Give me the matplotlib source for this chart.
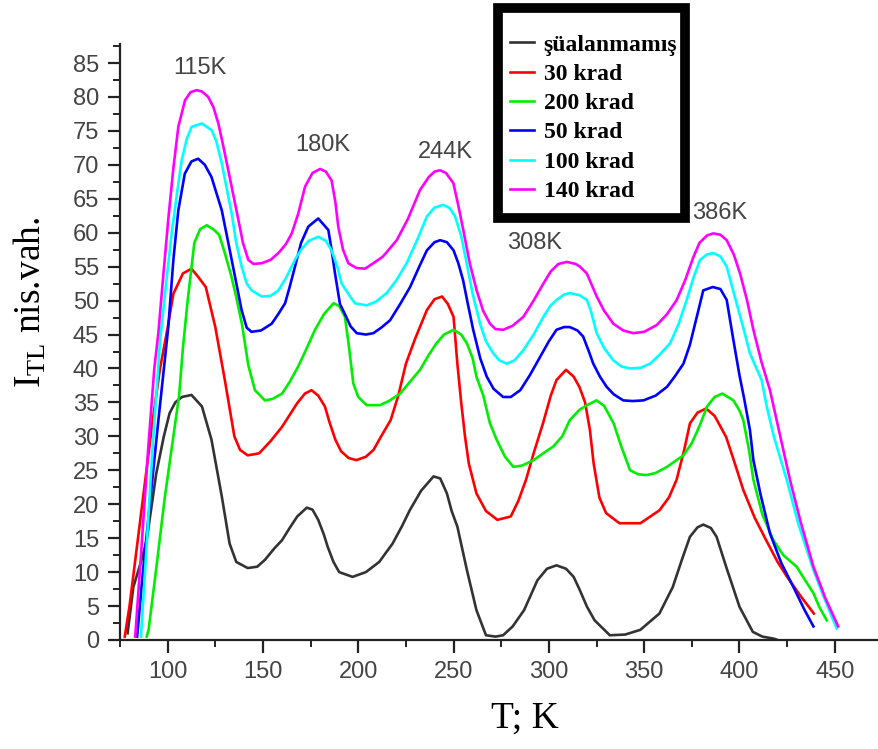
import numpy as np
import matplotlib
matplotlib.use("Agg")
import matplotlib.pyplot as plt
from matplotlib.patches import Rectangle
from matplotlib.ticker import MultipleLocator

# TL glow curves: temperature (K) vs intensity (arb. units)
bk_T = [79, 82, 86, 89, 94, 98, 101, 104, 107.5, 112.5,
        118, 123, 128.5, 132.5, 136, 142, 147, 151, 156, 160,
        164, 168, 173, 176, 179, 182, 184, 187, 190, 197,
        204, 211, 218, 223, 227, 233, 239.5, 243, 246.5, 249,
        252, 257, 262, 267, 272, 276, 281, 287, 294, 299,
        304, 309, 313, 316, 320, 324, 332, 340, 348, 358,
        365, 370, 374, 378, 381, 385, 388, 393, 400, 407,
        412, 418, 420]
bk_I = [1, 7.8, 11.5, 14.7, 24.5, 30, 33.4, 35, 35.8, 36.1,
        34.4, 29.5, 21, 14.2, 11.5, 10.6, 10.8, 11.8, 13.5, 14.7,
        16.5, 18.2, 19.5, 19.2, 17.7, 15.5, 13.7, 11.5, 10.0, 9.3,
        10, 11.5, 14.2, 16.8, 19.1, 22, 24.1, 23.8, 21.6, 19,
        16.7, 10.3, 4.4, 0.7, 0.5, 0.7, 2, 4.4, 8.8, 10.5,
        11, 10.5, 9.3, 7.5, 4.9, 2.9, 0.7, 0.8, 1.5, 3.9,
        7.8, 12, 15.2, 16.6, 17, 16.5, 15.2, 10.8, 4.9, 1.2,
        0.5, 0.2, 0]

rd_T = [77.5, 80, 84, 88, 92, 96, 100, 103, 108, 112.5,
        116, 120, 125, 130, 135, 138, 142, 148, 154, 160,
        168, 172, 175.5, 179, 182.5, 185, 188, 191, 195, 199,
        204, 208, 212, 217, 221, 225, 230, 236, 240, 244,
        247, 250, 252, 254, 256, 258, 262, 267, 273, 280,
        284, 288, 292, 297, 301, 304, 309, 313, 316, 319,
        321.5, 323.5, 326.5, 330, 337, 348, 358, 363, 367, 371,
        374, 378, 382.5, 387, 393, 397, 402, 408, 414, 420,
        425, 432, 439]
rd_I = [0.5, 5, 14, 23, 32, 40, 46, 51, 54, 54.7,
        53.5, 52, 46.1, 38.3, 30, 28, 27.2, 27.5, 29.3, 31.4,
        34.9, 36.3, 36.8, 36, 34.4, 32, 29.5, 27.8, 26.8, 26.5,
        27, 28, 30, 32.4, 36, 40.7, 44.5, 48.6, 50.2, 50.6,
        49.5, 47.6, 40.7, 35, 30, 26, 21.6, 19, 17.7, 18.2,
        20.5, 23.6, 27.5, 32, 36, 38.3, 39.8, 38.8, 37.3, 35,
        31, 26, 21, 18.7, 17.2, 17.2, 19.1, 21, 23.6, 28,
        31.9, 33.5, 34.1, 33, 29.9, 26.5, 22.1, 18, 14.7, 11.5,
        9.3, 6.5, 3.9]

gr_T = [89, 90, 94, 98.5, 102, 106, 108, 110.5, 114, 117,
        120.5, 124, 127, 130, 133.5, 136, 139, 142.3, 145.8, 151,
        155, 160, 164, 168.5, 173, 177.3, 182, 187, 190, 193,
        195, 197.4, 200, 204.4, 211.4, 216, 222, 227, 232.4, 237,
        241, 245, 250, 254, 257, 260, 262, 265.6, 269, 272.6,
        277, 281.4, 286, 292, 297, 302.3, 307, 311, 316, 320,
        325, 329, 334, 338, 342.6, 347, 351.3, 356, 362, 366,
        370.6, 375, 379, 383, 387, 391, 396.8, 400, 402, 405,
        407.3, 412, 417.8, 423, 430, 434, 438.8, 442, 445.8]
gr_I = [0.5, 1.5, 10.5, 21, 28, 36, 43, 50, 58.5, 60.5,
        61.1, 60.5, 59.7, 57, 53.5, 50.5, 46.5, 40.5, 36.8, 35.3,
        35.5, 36.3, 38, 40.3, 43, 45.7, 48, 49.6, 49.2, 47.6,
        43.5, 37.8, 35.8, 34.6, 34.6, 35.2, 36.3, 38, 39.8, 42,
        43.7, 45, 45.7, 45, 43.7, 41.5, 38.8, 36, 32, 29.5,
        27, 25.5, 25.7, 26.5, 27.5, 28.5, 30, 32.4, 33.9, 34.6,
        35.3, 34.5, 31.9, 28.5, 25, 24.4, 24.3, 24.6, 25.5, 26.3,
        27.2, 29, 31.5, 34.4, 35.8, 36.3, 35.3, 33.8, 32.4, 28,
        23.6, 18.5, 14.7, 12.5, 10.8, 9, 6.9, 4.8, 2.9]

bl_T = [84, 87, 91, 95, 100.3, 103, 105.6, 109, 112.5, 116,
        119.5, 123, 128.4, 133.6, 138.8, 141.5, 144, 149, 154.6, 158,
        161.6, 164, 166.8, 170, 173.8, 179, 184.3, 186, 187.8, 190.4,
        193, 196, 199.2, 204, 207.9, 212, 216.7, 222, 227.2, 232,
        236, 240, 243, 246.5, 250, 252.5, 255, 257.5, 260.3, 264,
        267.4, 271, 276, 280, 285, 290, 295.4, 300, 304, 308,
        311, 315, 318, 321, 323.3, 326.8, 330.3, 334, 339, 344,
        349.6, 356, 362, 366, 370.6, 374, 377.6, 381, 386, 390,
        393.3, 396.8, 400, 402.5, 405.5, 407.3, 411, 416, 422, 428.3,
        434, 438.8]
bl_I = [0.5, 10, 21, 32, 46, 56, 63.3, 68.7, 70.5, 70.9,
        70, 68.2, 63.3, 56, 48.6, 46, 45.4, 45.6, 46.6, 48,
        49.6, 52, 55, 58.5, 60.9, 62.1, 60.4, 57.5, 54, 49.5,
        48, 46.2, 45.2, 45, 45.2, 46, 47.1, 49.5, 52, 55,
        57.4, 58.6, 58.9, 58.6, 57.4, 55.5, 53, 49.5, 45.7, 41.5,
        38.8, 37, 35.8, 35.8, 36.8, 39, 41.7, 44, 45.7, 46.1,
        46.1, 45.6, 44.7, 42.5, 40.7, 38.8, 37.3, 36.2, 35.3, 35.2,
        35.3, 36, 37.3, 38.8, 40.7, 43.5, 47.6, 51.5, 52, 51.7,
        50.1, 44.2, 39, 35.5, 30.9, 26.5, 21.5, 15.7, 11.3, 7.8,
        4.5, 2]

cy_T = [86, 89, 92, 96, 99, 102.1, 105, 107.4, 110, 112.6,
        117.9, 123.1, 125.5, 128.4, 131, 133.6, 136, 138.8, 141.5, 144.1,
        149.3, 154, 158.1, 162, 166.8, 170, 174, 179, 183, 186,
        189, 191.3, 195.7, 198.3, 204.4, 209, 214.9, 220, 225.4, 231,
        236, 240, 244.6, 248, 250.8, 254, 256.9, 260, 263.9, 267,
        270.9, 274, 277.9, 282, 286.6, 292, 297.1, 301, 304.1, 308,
        311.1, 316, 319.9, 322, 325.1, 329, 333.8, 338, 342.6, 348,
        353.1, 358, 363.6, 368, 372.3, 376, 379.3, 383, 386.3, 390,
        393.3, 398.5, 402, 405.5, 411.6, 414.3, 418, 424.8, 431, 438.8,
        445, 451]
cy_I = [0.5, 14, 28, 44, 52, 59.9, 66, 70.7, 73.8, 75.6,
        76.1, 75.1, 73.5, 70.2, 66.5, 62.8, 58.5, 55, 52.5, 51.5,
        50.6, 50.7, 51.5, 53.3, 56, 57.5, 58.8, 59.4, 58.8, 57.4,
        55, 52.5, 50.6, 49.6, 49.3, 49.8, 51.1, 53, 55.5, 59,
        62.4, 63.7, 64.1, 63.6, 62.4, 59.5, 55.5, 51, 46.6, 44,
        42.2, 41.2, 40.7, 41.2, 42.7, 45, 47.6, 49.3, 50.1, 50.9,
        51.1, 50.8, 50.1, 48.5, 45.2, 43, 41.2, 40.3, 40, 40.1,
        40.7, 42, 43.7, 46.5, 50.1, 53.5, 56, 56.8, 57, 56.5,
        55, 49.6, 46, 42.2, 38.3, 34.4, 30, 23.6, 17, 10.3,
        5.8, 1.7]

mg_T = [83, 86, 90, 93, 95.1, 97.5, 100.3, 103, 105.6, 109.1,
        112, 115.2, 118, 121.3, 124, 126.6, 129, 131.8, 134.5, 137.1,
        139.5, 142.3, 145, 149.3, 154, 158.1, 162, 165.1, 168.5, 172.1,
        176, 180, 183, 186, 188, 189.5, 192, 194.8, 199, 203.5,
        207.9, 213, 220.2, 226, 232.4, 237, 240, 242.9, 246, 249.9,
        252.5, 255.1, 258.5, 262.1, 265.5, 269.1, 272, 276.1, 281, 286.6,
        292, 297.1, 301, 305, 309.4, 314, 316.3, 319.9, 322.5, 325.1,
        329, 333.8, 339, 344.3, 350, 356.6, 362, 367.1, 371.5, 375.8,
        379, 383, 386.3, 390, 393.3, 397, 400.3, 404, 407.3, 411.5,
        416, 421, 426.5, 432, 438.8, 445, 451.8]
mg_I = [0.5, 12.5, 29, 40, 45.2, 53, 61.9, 69.5, 75.6, 79.5,
        80.7, 81, 80.8, 80, 78.5, 76.1, 73, 69.2, 65.5, 61.9,
        58.5, 56, 55.4, 55.5, 56, 57, 58.3, 59.9, 62.8, 66.8,
        68.8, 69.4, 69, 67.7, 64.5, 60.9, 57.5, 55.5, 54.8, 54.7,
        55.5, 56.5, 58.9, 62, 66.3, 68.2, 69, 69.2, 68.8, 67.3,
        64, 60.4, 55.5, 51.5, 48.5, 46.6, 45.8, 45.7, 46.3, 47.6,
        50, 52.5, 54.3, 55.4, 55.7, 55.4, 55, 54, 52.3, 50.6,
        48.5, 46.6, 45.6, 45.2, 45.4, 46.4, 48, 50.1, 53, 56.4,
        58.5, 59.6, 59.9, 59.7, 58.9, 56.8, 54, 50, 45.7, 41,
        36.8, 30.5, 23.6, 17.5, 10.8, 6.2, 2]

labels = ["şüalanmamış", "30 krad", "200 krad", "50 krad", "100 krad", "140 krad"]
colors = ["#333333", "#ff0000", "#00ee00", "#0000ff", "#00ffff", "#ff00ff"]

peak_names = ["115K", "180K", "244K", "308K", "386K"]
peak_T = [117, 181.5, 245.5, 292.7, 389.8]
peak_I = [84.2, 72.9, 71.9, 58.5, 62.9]

W, H = 879, 749
fig = plt.figure(figsize=(W / 100, H / 100), dpi=100)
ax = fig.add_axes([120 / W, 1 - 640 / H, 759 / W, 596 / H])

curves = [(bk_T, bk_I), (rd_T, rd_I), (gr_T, gr_I),
          (bl_T, bl_I), (cy_T, cy_I), (mg_T, mg_I)]
for (t, i), lab, c in zip(curves, labels, colors):
    ax.plot(t, i, color=c, lw=1.9, label=lab)

ax.set_xlim(75, 473.2)
ax.set_ylim(0, 87.8)
ax.xaxis.set_major_locator(MultipleLocator(50))
ax.xaxis.set_minor_locator(MultipleLocator(25))
ax.yaxis.set_major_locator(MultipleLocator(5))
ax.yaxis.set_minor_locator(MultipleLocator(2.5))
ax.set_xticks(np.arange(100, 451, 50))
for s in ["top", "right"]:
    ax.spines[s].set_visible(False)
for s in ["left", "bottom"]:
    ax.spines[s].set_linewidth(1.6)
    ax.spines[s].set_color("#222222")
ax.tick_params(which="major", length=9, width=1.6, color="#222222",
               labelsize=17, labelcolor="#444444", pad=6)
ax.tick_params(which="minor", length=5, width=1.4, color="#222222")
for lbl in ax.get_xticklabels() + ax.get_yticklabels():
    lbl.set_family("Liberation Sans")

for name, t, v in zip(peak_names, peak_T, peak_I):
    ax.text(t, v, name, ha="center", va="center", fontsize=17,
            color="#444444", family="Liberation Sans")

fig.text(30 / W, 1 - 302 / H, r"$\mathregular{I_{TL}}$ nis.vah.",
         rotation=90, ha="center", va="center", fontsize=27,
         family="Liberation Serif")
fig.text(525 / W, 1 - 718 / H, "T; K", ha="center", va="center",
         fontsize=27, family="Liberation Serif")

# heavy legend box drawn by hand, legend itself without frame
box = Rectangle((498 / W, 1 - 218 / H), 187 / W, 210 / H,
                transform=fig.transFigure, facecolor="white",
                edgecolor="black", linewidth=7, joinstyle="miter",
                zorder=4, clip_on=False)
ax.add_patch(box)
ax.legend(loc="upper left", bbox_to_anchor=(510 / W, 1 - 34 / H),
          bbox_transform=fig.transFigure, frameon=False,
          handlelength=1.0, handletextpad=0.42, labelspacing=0.33,
          borderpad=0, borderaxespad=0,
          prop={"family": "Liberation Serif", "size": 17, "weight": "bold"})

fig.savefig("out.png", dpi=100)
